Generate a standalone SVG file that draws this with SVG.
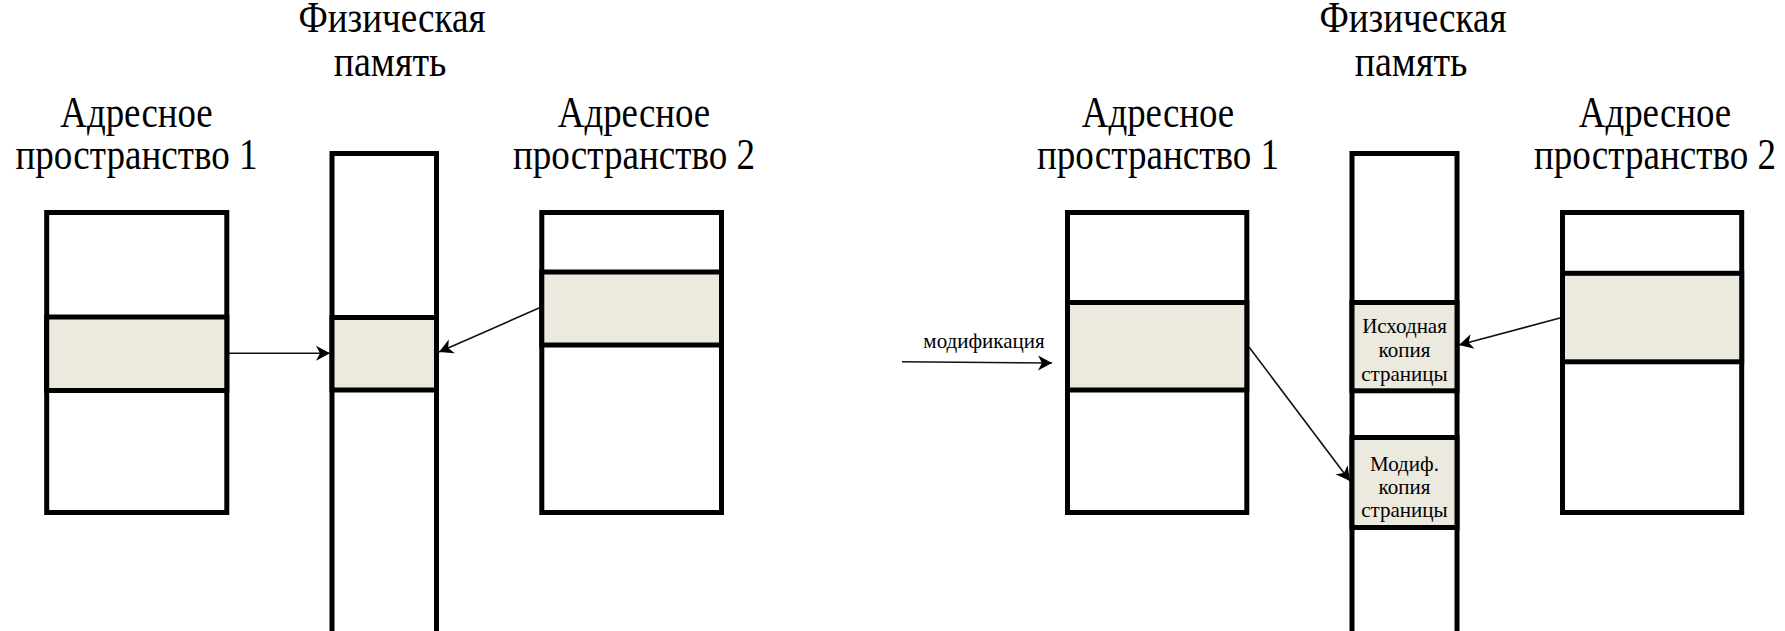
<svg xmlns="http://www.w3.org/2000/svg" width="1785" height="631" viewBox="0 0 1785 631">
  <style>
    .box { fill: #ffffff; stroke: #000000; stroke-width: 5; }
    .page { fill: #ECE9DE; stroke: #000000; stroke-width: 5; }
    .title { font-family: "Liberation Serif", "Times New Roman", serif; font-size: 44px; fill: #000000; text-anchor: middle; }
    .small { font-family: "Liberation Serif", "Times New Roman", serif; font-size: 21px; fill: #000000; text-anchor: middle; }
    .link { fill: none; stroke: #111111; stroke-width: 1.6; marker-end: url(#head); }
  </style>
  <defs>
    <marker id="head" markerUnits="userSpaceOnUse" markerWidth="16" markerHeight="16" refX="14" refY="7.5" orient="auto" overflow="visible">
      <path d="M0,0 L14,7.5 L0,15 L4,7.5 Z" fill="#000000"/>
    </marker>
  </defs>
  <rect x="0" y="0" width="1785" height="631" fill="#ffffff"/>

  <!-- Left: shared page -->
  <g id="as1-left">
    <text class="title" x="136.5" y="127" textLength="152.5" lengthAdjust="spacingAndGlyphs">Адресное</text>
    <text class="title" x="136.5" y="169" textLength="242" lengthAdjust="spacingAndGlyphs">пространство 1</text>
    <rect class="box" x="46.7" y="212.5" width="180.1" height="300"/>
    <rect class="page" x="46.7" y="317" width="180.1" height="73.5"/>
  </g>
  <g id="phys-left">
    <text class="title" x="392" y="32" textLength="187" lengthAdjust="spacingAndGlyphs">Физическая</text>
    <text class="title" x="390" y="76" textLength="112.7" lengthAdjust="spacingAndGlyphs">память</text>
    <rect class="box" x="332" y="153.5" width="104.5" height="500"/>
    <rect class="page" x="332" y="317.5" width="104.5" height="72.5"/>
  </g>
  <g id="as2-left">
    <text class="title" x="634" y="127" textLength="152.5" lengthAdjust="spacingAndGlyphs">Адресное</text>
    <text class="title" x="634" y="169" textLength="242" lengthAdjust="spacingAndGlyphs">пространство 2</text>
    <rect class="box" x="541.8" y="212.5" width="179.7" height="300"/>
    <rect class="page" x="541.8" y="272" width="179.7" height="73"/>
  </g>

  <!-- Right: copy on write -->
  <g id="modification">
    <text class="small" x="984" y="348">модификация</text>
  </g>
  <g id="as1-right">
    <text class="title" x="1158" y="127" textLength="152.5" lengthAdjust="spacingAndGlyphs">Адресное</text>
    <text class="title" x="1158" y="169" textLength="242" lengthAdjust="spacingAndGlyphs">пространство 1</text>
    <rect class="box" x="1067.5" y="212.5" width="179.3" height="300"/>
    <rect class="page" x="1067.5" y="302.5" width="179.3" height="87.5"/>
  </g>
  <g id="phys-right">
    <text class="title" x="1413" y="32" textLength="187" lengthAdjust="spacingAndGlyphs">Физическая</text>
    <text class="title" x="1411" y="76" textLength="112.7" lengthAdjust="spacingAndGlyphs">память</text>
    <rect class="box" x="1352" y="153.5" width="105" height="500"/>
    <rect class="page" x="1352" y="302.5" width="105" height="88.3"/>
    <rect class="page" x="1352" y="437.5" width="105" height="90"/>
    <text class="small" x="1404.5" y="333">Исходная</text>
    <text class="small" x="1404.5" y="357">копия</text>
    <text class="small" x="1404.5" y="381">страницы</text>
    <text class="small" x="1404.5" y="471">Модиф.</text>
    <text class="small" x="1404.5" y="494">копия</text>
    <text class="small" x="1404.5" y="517">страницы</text>
  </g>
  <g id="as2-right">
    <text class="title" x="1655" y="127" textLength="152.5" lengthAdjust="spacingAndGlyphs">Адресное</text>
    <text class="title" x="1655" y="169" textLength="242" lengthAdjust="spacingAndGlyphs">пространство 2</text>
    <rect class="box" x="1562.5" y="212.5" width="179.2" height="300"/>
    <rect class="page" x="1562.5" y="273.3" width="179.2" height="88.5"/>
  </g>

  <g id="connectors">
    <line class="link" x1="229" y1="353.3" x2="330" y2="353.3"/>
    <line class="link" x1="539" y1="308" x2="439" y2="352"/>
    <line class="link" x1="902" y1="361.7" x2="1052" y2="363"/>
    <line class="link" x1="1249" y1="347" x2="1350" y2="481"/>
    <line class="link" x1="1560" y1="318" x2="1459" y2="345"/>
  </g>
</svg>
